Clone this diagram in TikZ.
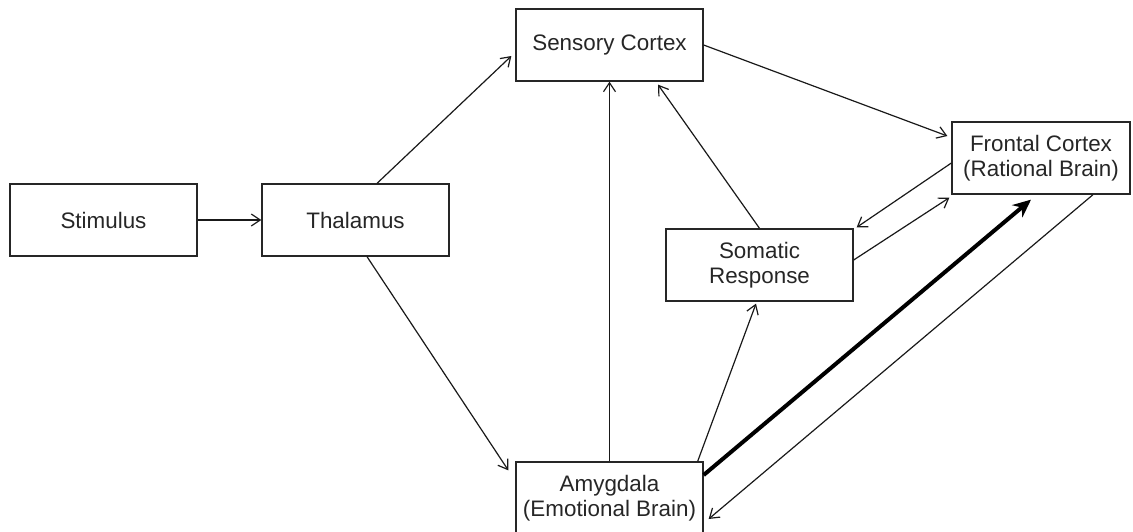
\documentclass[tikz,border=0pt]{standalone}
\usepackage{fontspec}
\setmainfont{Liberation Sans}
\usetikzlibrary{arrows.meta}
\usetikzlibrary{calc}

\begin{document}
\begin{tikzpicture}[x=0.5pt,y=-0.5pt,
    box/.style={draw=black!85,line width=0.65pt,text=black!85,
      minimum width=93.5pt,minimum height=36pt,inner sep=0pt,
      align=center,font=\fontsize{11.2}{12.5}\selectfont},
    link/.style={draw=black!90,line width=0.6pt,
      -{Straight Barb[length=4.5pt,width=6pt]}},
    strong/.style={draw=black,line width=2pt,
      -{Stealth[length=9pt,width=8pt]}}]

  % 余白を含めた全体の大きさ
  \useasboundingbox (0,0) rectangle (1133,531);

  % 箱
  \node[box] (stim) at (103.5,220) {Stimulus};
  \node[box] (thal) at (355.5,220) {Thalamus};
  \node[box] (sens) at (609.5,45) {Sensory Cortex};
  \node[box,minimum width=89pt] (front) at (1041,158) {Frontal Cortex\\(Rational Brain)};
  \node[box] (soma) at (759.5,265) {Somatic\\Response};
  \node[box] (amy) at (609.5,498) {Amygdala\\(Emotional Brain)};

  % 矢印
  \draw[link] (stim.east) -- (thal.west);
  \draw[link] ($(thal.north)+(21.5,0)$) -- ($(sens.west)+(-4,11)$);
  \draw[link] ($(thal.south)+(11.5,0)$) -- ($(amy.north west)+(-7,9)$);
  \draw[link] (amy.north) -- (sens.south);
  \draw[link] (soma.north) -- ($(sens.south)+(48.5,3)$);
  \draw[link] (sens.east) -- ($(front.west)+(-4,-22)$);
  \draw[link] ($(front.west)+(0,5)$) -- ($(soma.north east)+(3,-1)$);
  \draw[link] ($(soma.east)+(0,-5)$) -- ($(front.south west)+(-2,3)$);
  \draw[link] ($(amy.north east)+(-6,0)$) -- ($(soma.south)+(-3.5,2)$);
  \draw[link] ($(front.south)+(52,0)$) -- ($(amy.east)+(5,21)$);
  \draw[strong] ($(amy.east)+(0,-23)$) -- ($(front.south)+(-10,5)$);
\end{tikzpicture}
\end{document}
